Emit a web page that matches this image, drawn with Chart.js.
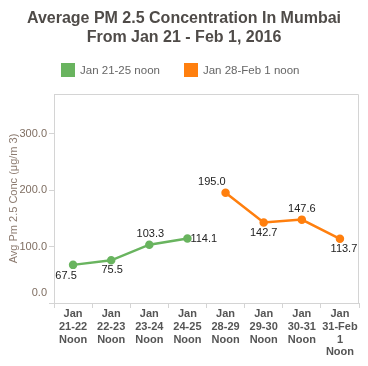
<!DOCTYPE html>
<html>
<head>
<meta charset="utf-8">
<script src="https://cdn.jsdelivr.net/npm/chart.js@4.4.1/dist/chart.umd.min.js"></script>
<style>
    body { margin: 0; background: #fff; font-family: "Liberation Sans", Arial, sans-serif; }
    #wrap { position: relative; width: 368px; height: 366px; }
    #title { position: absolute; top: 8px; left: 0; width: 368px; text-align: center;
             font-size: 16px; font-weight: bold; line-height: 19px; color: #4f4b48; }
    #legend { position: absolute; top: 63px; left: 61px; display: flex; font-size: 11.5px; color: #666; line-height: 14px; }
    .item { display: flex; align-items: center; margin-right: 24px; }
    .box { width: 14px; height: 14px; margin-right: 5px; }
</style>
</head>
<body>
<div id="wrap">
    <canvas id="pmChart" width="368" height="366"></canvas>
    <div id="title"></div>
    <div id="legend"></div>
</div>
<script>
// Veriler
const titleLines = ['Average PM 2.5 Concentration In Mumbai', 'From Jan 21 - Feb 1, 2016'];
const categories = [
    ['Jan', '21-22', 'Noon'],
    ['Jan', '22-23', 'Noon'],
    ['Jan', '23-24', 'Noon'],
    ['Jan', '24-25', 'Noon'],
    ['Jan', '28-29', 'Noon'],
    ['Jan', '29-30', 'Noon'],
    ['Jan', '30-31', 'Noon'],
    ['Jan', '31-Feb', '1', 'Noon']
];
const seriesNames = ['Jan 21-25 noon', 'Jan 28-Feb 1 noon'];
const firstWeek = [67.5, 75.5, 103.3, 114.1, null, null, null, null];
const secondWeek = [null, null, null, null, 195.0, 142.7, 147.6, 113.7];
const yTicks = [0, 100, 200, 300];
const yMax = 370;
const yTitle = 'Avg Pm 2.5 Conc (μg/m 3)';

const colors = ['#69b45f', '#ff7f0e'];

// Etiket yerleşimi: [dx, dy, hizalama]
const labelPlacement = [
    [[-7, 11, 'center'], [1, 10, 'center'], [1, -11, 'center'], [3, 0, 'left']],
    [[0, -11, 'right'], [0, 11, 'center'], [0, -11, 'center'], [4, 10, 'center']]
];

document.getElementById('title').innerHTML = titleLines.join('<br>');
document.getElementById('legend').innerHTML = seriesNames.map((name, i) =>
    `<div class="item"><span class="box" style="background:${colors[i]}"></span><span>${name}</span></div>`
).join('');

const frameBox = {
    id: 'frameBox',
    beforeDatasetsDraw(chart) {
        const { ctx, chartArea: a } = chart;
        ctx.save();
        ctx.strokeStyle = '#d4d4d4';
        ctx.lineWidth = 1;
        ctx.beginPath();
        ctx.moveTo(a.left + 0.5, a.top + 0.5);
        ctx.lineTo(a.right - 0.5, a.top + 0.5);
        ctx.lineTo(a.right - 0.5, a.bottom);
        ctx.stroke();
        ctx.restore();
    }
};

const valueLabels = {
    id: 'valueLabels',
    afterDatasetsDraw(chart) {
        const ctx = chart.ctx;
        ctx.save();
        ctx.font = '11px "Liberation Sans", Arial, sans-serif';
        ctx.fillStyle = '#222';
        ctx.textBaseline = 'middle';
        chart.data.datasets.forEach((ds, di) => {
            const meta = chart.getDatasetMeta(di);
            let k = 0;
            ds.data.forEach((v, i) => {
                if (v === null) return;
                const p = meta.data[i];
                const [dx, dy, align] = labelPlacement[di][k++];
                ctx.textAlign = align;
                ctx.fillText(v.toFixed(1), p.x + dx, p.y + dy);
            });
        });
        // sıfır etiketi eksen altına taşmasın
        const y = chart.scales.y;
        ctx.fillStyle = '#7f6e62';
        ctx.textAlign = 'right';
        ctx.fillText(yTicks[0].toFixed(1), y.right - 7, y.getPixelForValue(yTicks[0]) - 10);
        ctx.restore();
    }
};

Chart.defaults.font.family = '"Liberation Sans", Arial, sans-serif';

new Chart(document.getElementById('pmChart').getContext('2d'), {
    type: 'line',
    data: {
        labels: categories,
        datasets: [
            {
                label: seriesNames[0],
                data: firstWeek,
                borderColor: colors[0],
                backgroundColor: colors[0],
                borderWidth: 2.5,
                pointRadius: 3,
                tension: 0
            },
            {
                label: seriesNames[1],
                data: secondWeek,
                borderColor: colors[1],
                backgroundColor: colors[1],
                borderWidth: 2.5,
                pointRadius: 3,
                tension: 0
            }
        ]
    },
    options: {
        responsive: false,
        animation: false,
        layout: { padding: { top: 94, right: 9, bottom: 0, left: 0 } },
        plugins: {
            legend: { display: false },
            title: { display: false },
            tooltip: { enabled: false }
        },
        scales: {
            x: {
                offset: true,
                grid: { offset: true, drawOnChartArea: false, tickLength: 5, color: '#d4d4d4' },
                border: { color: '#d4d4d4' },
                ticks: {
                    color: '#555',
                    padding: 0,
                    maxRotation: 0,
                    autoSkip: false,
                    font: { size: 11, weight: 'bold', lineHeight: 1.15 }
                },
                afterFit: s => { s.height = 63; }
            },
            y: {
                min: 0,
                max: yMax,
                afterBuildTicks: s => { s.ticks = yTicks.map(v => ({ value: v })); },
                grid: { drawOnChartArea: false, tickLength: 5, color: '#d4d4d4' },
                border: { color: '#d4d4d4' },
                ticks: {
                    color: '#7f6e62',
                    padding: 2,
                    font: { size: 11 },
                    callback: v => v === 0 ? '' : v.toFixed(1)
                },
                title: {
                    display: true,
                    text: yTitle,
                    color: '#8c7b70',
                    font: { size: 11 },
                    padding: { top: 7, bottom: 0 }
                },
                afterFit: s => { s.width = 54; }
            }
        }
    },
    plugins: [frameBox, valueLabels]
});
</script>
</body>
</html>
